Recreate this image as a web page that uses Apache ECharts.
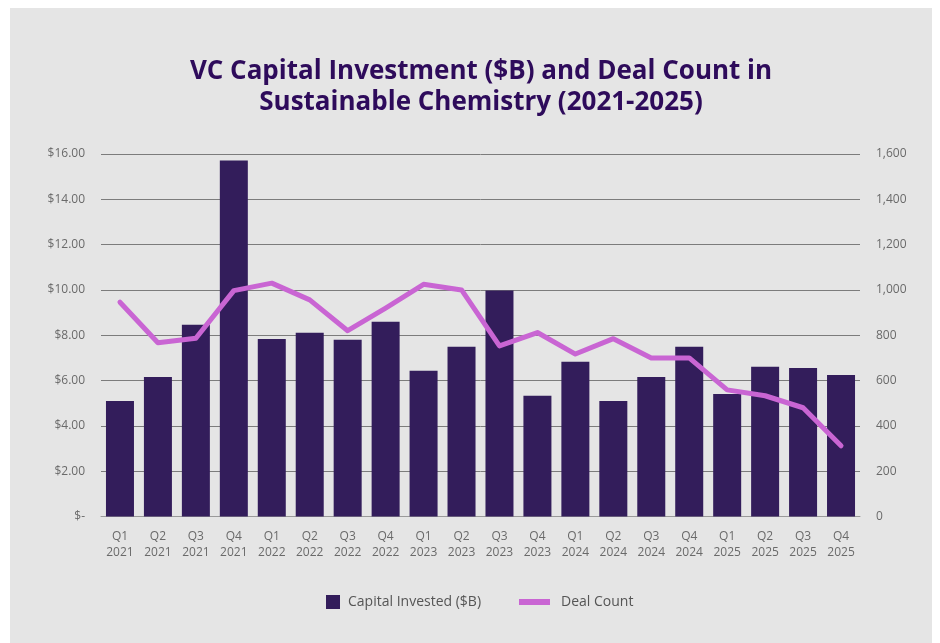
<!DOCTYPE html>
<html lang="en">
<head>
    <meta charset="UTF-8">
    <title>VC Capital Investment and Deal Count</title>
    <style>
        body {
            margin: 0;
            background-color: #ffffff;
        }

        #panel {
            position: absolute;
            left: 10px;
            top: 8px;
            width: 922px;
            height: 635px;
            background-color: #e5e5e5;
        }
    </style>
</head>
<body>
<div id="panel"></div>
<script src="https://cdn.jsdelivr.net/npm/echarts@6/dist/echarts.min.js"></script>
<script>
    var quarters = ['Q1\n2021', 'Q2\n2021', 'Q3\n2021', 'Q4\n2021',
        'Q1\n2022', 'Q2\n2022', 'Q3\n2022', 'Q4\n2022',
        'Q1\n2023', 'Q2\n2023', 'Q3\n2023', 'Q4\n2023',
        'Q1\n2024', 'Q2\n2024', 'Q3\n2024', 'Q4\n2024',
        'Q1\n2025', 'Q2\n2025', 'Q3\n2025', 'Q4\n2025'];
    // $B
    var capitalInvested = [5.10, 6.16, 8.46, 15.71,
        7.84, 8.11, 7.80, 8.60,
        6.43, 7.49, 9.98, 5.33,
        6.83, 5.10, 6.16, 7.49,
        5.41, 6.61, 6.56, 6.25];
    var dealCount = [946, 767, 787, 997,
        1030, 956, 820, 920,
        1025, 1000, 753, 812,
        717, 785, 700, 700,
        559, 533, 480, 312];

    var font = '"Open Sans", "Noto Sans", sans-serif';

    var chart = echarts.init(document.getElementById('panel'));
    var option = {
        animation: false,
        title: {
            text: 'VC Capital Investment ($B) and Deal Count in\nSustainable Chemistry (2021-2025)',
            left: 466,
            top: 43,
            textAlign: 'center',
            textStyle: {
                fontFamily: font,
                fontWeight: 'bold',
                fontSize: 26,
                lineHeight: 31,
                color: '#2e0b5b'
            }
        },
        legend: [
            {
                data: ['Capital Invested ($B)'],
                left: 311,
                top: 582,
                itemWidth: 14,
                itemHeight: 14,
                icon: 'rect',
                textStyle: {fontFamily: font, fontSize: 14, color: '#555555', padding: [0, 0, 0, 3]}
            },
            {
                data: ['Deal Count'],
                left: 504,
                top: 582,
                itemWidth: 31,
                itemHeight: 6,
                icon: 'rect',
                textStyle: {fontFamily: font, fontSize: 14, color: '#555555', padding: [0, 0, 0, 6]}
            }
        ],
        grid: {
            left: 91,
            right: 72,
            top: 146,
            bottom: 126.5
        },
        xAxis: {
            type: 'category',
            data: quarters,
            axisLine: {lineStyle: {color: '#9a9a9a', width: 1}},
            axisTick: {show: false},
            axisLabel: {
                fontFamily: font,
                fontSize: 12,
                lineHeight: 16,
                color: '#6a6a6a',
                margin: 12,
                interval: 0
            }
        },
        yAxis: [
            {
                type: 'value',
                min: 0,
                max: 16,
                interval: 2,
                axisLine: {show: false},
                axisTick: {show: false},
                splitLine: {lineStyle: {color: '#7c7c7c', width: 1}},
                axisLabel: {
                    fontFamily: font,
                    fontSize: 12,
                    color: '#6a6a6a',
                    margin: 16,
                    formatter: function (v) {
                        return v === 0 ? '$-' : '$' + v.toFixed(2);
                    }
                }
            },
            {
                type: 'value',
                min: 0,
                max: 1600,
                interval: 200,
                axisLine: {show: false},
                axisTick: {show: false},
                splitLine: {show: false},
                axisLabel: {
                    fontFamily: font,
                    fontSize: 12,
                    color: '#6a6a6a',
                    margin: 16,
                    formatter: function (v) {
                        return v.toLocaleString('en-US');
                    }
                }
            }
        ],
        series: [
            {
                name: 'Capital Invested ($B)',
                type: 'bar',
                yAxisIndex: 0,
                barWidth: 28,
                itemStyle: {color: '#331d5b'},
                data: capitalInvested
            },
            {
                name: 'Deal Count',
                type: 'line',
                yAxisIndex: 1,
                showSymbol: false,
                symbol: 'none',
                itemStyle: {color: '#c965d3'},
                lineStyle: {color: '#c965d3', width: 5, cap: 'round', join: 'round'},
                data: dealCount
            }
        ]
    };
    chart.setOption(option);
</script>
</body>
</html>
